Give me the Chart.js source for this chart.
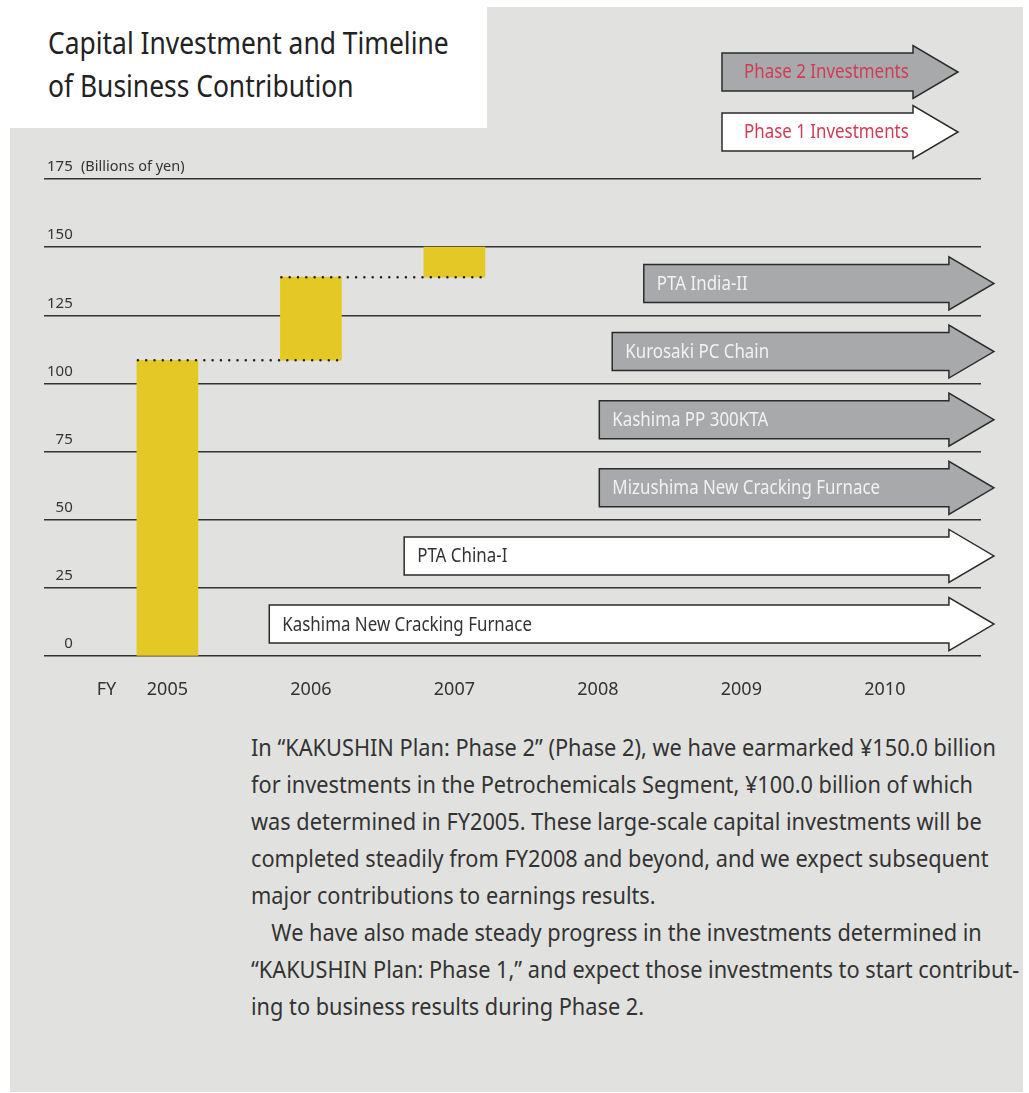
<!DOCTYPE html>
<html>
<head>
<meta charset="utf-8">
<title>Capital Investment and Timeline of Business Contribution</title>
<script src="https://cdn.jsdelivr.net/npm/chart.js@4/dist/chart.umd.min.js"></script>
<style>
  body { margin: 0; width: 1029px; height: 1093px; background: #fff; position: relative; overflow: hidden; font-family: "Noto Sans", sans-serif; }
  .panel { position: absolute; background: #e1e2df; }
  #panelTop { left: 487px; top: 7px; width: 536px; height: 130px; }
  #panelMain { left: 10px; top: 128px; width: 1013px; height: 964px; }
  #title { position: absolute; left: 48px; top: 21px; font-size: 30px; line-height: 43px; color: #222; white-space: nowrap; transform: scaleX(0.88); transform-origin: left top; }
  #chartBox { position: absolute; left: 0; top: 0; width: 1029px; height: 710px; }
  #note { position: absolute; left: 251px; top: 729px; font-size: 23.5px; line-height: 37px; color: #333; white-space: nowrap; transform: scaleX(0.925); transform-origin: left top; }
  #note .indent { padding-left: 22px; }
</style>
</head>
<body>
<div class="panel" id="panelTop"></div>
<div class="panel" id="panelMain"></div>
<div id="title">Capital Investment and Timeline<br>of Business Contribution</div>
<div id="chartBox"><canvas id="investChart" width="1029" height="710"></canvas></div>
<div id="note">
In “KAKUSHIN Plan: Phase 2” (Phase 2), we have earmarked ¥150.0 billion<br>
for investments in the Petrochemicals Segment, ¥100.0 billion of which<br>
was determined in FY2005. These large-scale capital investments will be<br>
completed steadily from FY2008 and beyond, and we expect subsequent<br>
major contributions to earnings results.<br>
<span class="indent"></span>We have also made steady progress in the investments determined in<br>
“KAKUSHIN Plan: Phase 1,” and expect those investments to start contribut-<br>
ing to business results during Phase 2.
</div>
<script>
// cumulative investment decided per fiscal year (billions of yen)
const fiscalYears = [2005, 2006, 2007];
const spendFrom = [0, 108.5, 139];
const spendTo = [108.5, 139, 150];

// axis years, plus where the "FY" caption sits
const axisYears = [2005, 2006, 2007, 2008, 2009, 2010];
const fyLabelAt = 2004.575;

// projects on the timeline: start of contribution and lane height
const projects = ['PTA India-II', 'Kurosaki PC Chain', 'Kashima PP 300KTA', 'Mizushima New Cracking Furnace', 'PTA China-I', 'Kashima New Cracking Furnace'];
const startFY = [2008.32, 2008.1, 2008.01, 2008.01, 2006.65, 2005.71];
const laneValue = [136.7, 111.7, 86.7, 61.7, 36.7, 11.7];
const projectPhase = [2, 2, 2, 2, 1, 1];
const timelineEnd = 2010.76;

const phaseLabels = ['Phase 2 Investments', 'Phase 1 Investments'];

const GRAY = '#a8a9ab';
const INK = '#2b2b2b';

function drawArrow(ctx, x0, x1, yc, fill, label, textColor, inset) {
  const body = 19, head = 26.5, headLen = 45;
  ctx.save();
  ctx.beginPath();
  ctx.moveTo(x0, yc - body);
  ctx.lineTo(x1 - headLen, yc - body);
  ctx.lineTo(x1 - headLen, yc - head);
  ctx.lineTo(x1, yc);
  ctx.lineTo(x1 - headLen, yc + head);
  ctx.lineTo(x1 - headLen, yc + body);
  ctx.lineTo(x0, yc + body);
  ctx.closePath();
  ctx.fillStyle = fill;
  ctx.fill();
  ctx.lineWidth = 1.5;
  ctx.strokeStyle = INK;
  ctx.stroke();
  ctx.translate(x0 + inset, yc + 1);
  ctx.scale(0.89, 1);
  ctx.font = '19px "Noto Sans"';
  ctx.textBaseline = 'middle';
  ctx.fillStyle = textColor;
  ctx.fillText(label, 0, 0);
  ctx.restore();
}

const timelinePlugin = {
  id: 'timeline',
  afterDatasetsDraw(chart) {
    const { ctx, scales: { x, y } } = chart;
    const bars = chart.getDatasetMeta(0).data;

    // dotted step lines from each bar top to the next bar
    ctx.save();
    ctx.strokeStyle = '#1e1e1e';
    ctx.lineWidth = 2.5;
    ctx.lineCap = 'round';
    ctx.setLineDash([0, 8.3]);
    for (let i = 0; i < bars.length - 1; i++) {
      const top = y.getPixelForValue(spendTo[i]);
      ctx.beginPath();
      ctx.moveTo(bars[i].x - bars[i].width / 2 + 1, top);
      ctx.lineTo(bars[i + 1].x + bars[i + 1].width / 2, top);
      ctx.stroke();
    }
    ctx.restore();

    // project arrows
    projects.forEach((name, i) => {
      const p2 = projectPhase[i] === 2;
      drawArrow(ctx, x.getPixelForValue(startFY[i]), x.getPixelForValue(timelineEnd),
        y.getPixelForValue(laneValue[i]), p2 ? GRAY : '#fff', name, p2 ? '#f2f2f2' : '#333', 13);
    });

    // phase key, top right
    drawArrow(ctx, 722, 958, 72, GRAY, phaseLabels[0], '#d13b56', 22);
    drawArrow(ctx, 722, 958, 132, '#fff', phaseLabels[1], '#d13b56', 22);

    // unit caption next to the top tick
    ctx.save();
    ctx.font = '14.5px "Noto Sans"';
    ctx.fillStyle = '#333';
    ctx.textBaseline = 'middle';
    ctx.fillText('(Billions of yen)', 81, y.getPixelForValue(175) - 12);
    ctx.restore();
  }
};

new Chart(document.getElementById('investChart'), {
  type: 'bar',
  data: {
    datasets: [{
      data: fiscalYears.map((fy, i) => ({ x: fy, y: [spendFrom[i], spendTo[i]] })),
      backgroundColor: '#e4c825',
      borderWidth: 0,
      barThickness: 61
    }]
  },
  options: {
    responsive: false,
    animation: false,
    devicePixelRatio: 1,
    layout: { padding: { top: 179, left: 44, right: 48, bottom: 14 } },
    plugins: { legend: { display: false }, tooltip: { enabled: false } },
    scales: {
      x: {
        type: 'linear',
        min: 2004.14,
        max: 2010.67,
        offset: false,
        grid: { display: false },
        border: { display: false },
        afterBuildTicks: s => {
          s.ticks = [{ value: fyLabelAt }].concat(axisYears.map(v => ({ value: v })));
        },
        afterFit: s => { s.height = 40; },
        ticks: {
          autoSkip: false,
          maxRotation: 0,
          padding: 15,
          color: '#333',
          font: { family: 'Noto Sans', size: 18 },
          callback: v => (v === fyLabelAt ? 'FY' : String(v))
        }
      },
      y: {
        min: 0,
        max: 175,
        grid: { color: '#333', lineWidth: 1.4, drawTicks: false },
        border: { display: false },
        afterFit: s => { s.width = 0; },
        ticks: {
          stepSize: 25,
          mirror: true,
          crossAlign: 'far',
          padding: 3,
          labelOffset: -12,
          color: '#333',
          font: { family: 'Noto Sans', size: 15 }
        }
      }
    }
  },
  plugins: [timelinePlugin]
});
</script>
</body>
</html>
